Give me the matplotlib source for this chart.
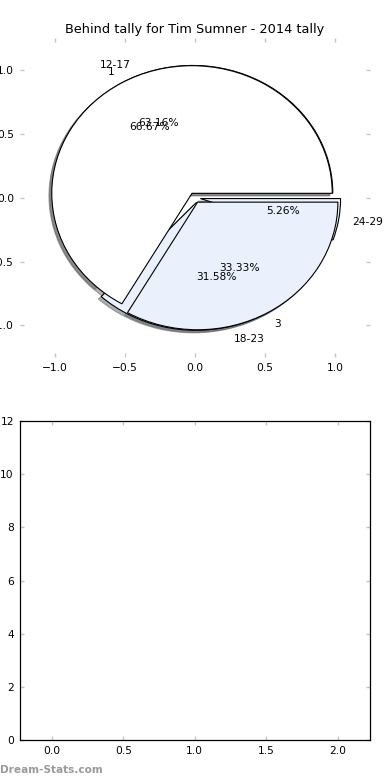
import matplotlib
matplotlib.use('Agg')
import matplotlib.pyplot as plt

# ---- data ----
title = "Behind tally for Tim Sumner - 2014 tally"
age_labels = ['12-17', '18-23', '24-29']
age_counts = [12, 6, 1]
tally_labels = ['1', '3']
tally_counts = [2, 1]
pie_xticks = [-1.0, -0.5, 0.0, 0.5, 1.0]
pie_yticks = [-1.0, -0.5, 0.0, 0.5, 1.0]
bottom_xticks = [0.0, 0.5, 1.0, 1.5, 2.0]
bottom_yticks = [0, 2, 4, 6, 8, 10, 12]
watermark = "Dream-Stats.com"

# ---- style ----
FS = 7.7
TICK_COLOR = '#c4c4c4'
LIGHT_BLUE = '#eaf0fc'

plt.rcParams['font.family'] = ['DejaVu Sans']

fig = plt.figure(figsize=(3.9, 7.8), dpi=100)

ax1 = fig.add_axes([0.05, 0.542, 0.899, 0.409])
wedge_kw = dict(edgecolor='black', linewidth=0.8)
shadow_kw = {'ox': -0.0144, 'oy': -0.0144, 'shade': 0.6}
ax1.pie(age_counts, labels=age_labels, autopct='%.2f%%', explode=[0.04] * 3,
        shadow=shadow_kw, colors=['white', LIGHT_BLUE, LIGHT_BLUE],
        wedgeprops=wedge_kw, textprops=dict(fontsize=FS), frame=True)
ax1.pie(tally_counts, labels=tally_labels, autopct='%.2f%%', explode=[0.04] * 2,
        shadow=shadow_kw, colors=['white', LIGHT_BLUE],
        wedgeprops=wedge_kw, textprops=dict(fontsize=FS), frame=True)
ax1.set_aspect('auto')
ax1.set_frame_on(False)
ax1.set_xlim(-1.25, 1.25)
ax1.set_ylim(-1.25, 1.25)
ax1.set_xticks(pie_xticks)
ax1.set_yticks(pie_yticks)
ax1.tick_params(direction='in', top=True, right=True, length=3, width=1,
                color=TICK_COLOR, labelsize=FS, pad=4)
ax1.set_title(title, fontsize=9.3, pad=4)

ax2 = fig.add_axes([0.05, 0.0513, 0.899, 0.4087])
ax2.set_xlim(-0.225, 2.225)
ax2.set_ylim(0, 12)
ax2.set_xticks(bottom_xticks)
ax2.set_yticks(bottom_yticks)
ax2.tick_params(direction='in', top=True, right=True, length=3, width=1,
                color=TICK_COLOR, labelsize=FS, pad=4)
for s in ax2.spines.values():
    s.set_linewidth(0.9)

fig.text(0.0, 0.0128, watermark, fontsize=7.6, color='#9a9a9a',
         fontweight='bold', ha='left', va='center')

fig.savefig('out.png', dpi=100)
